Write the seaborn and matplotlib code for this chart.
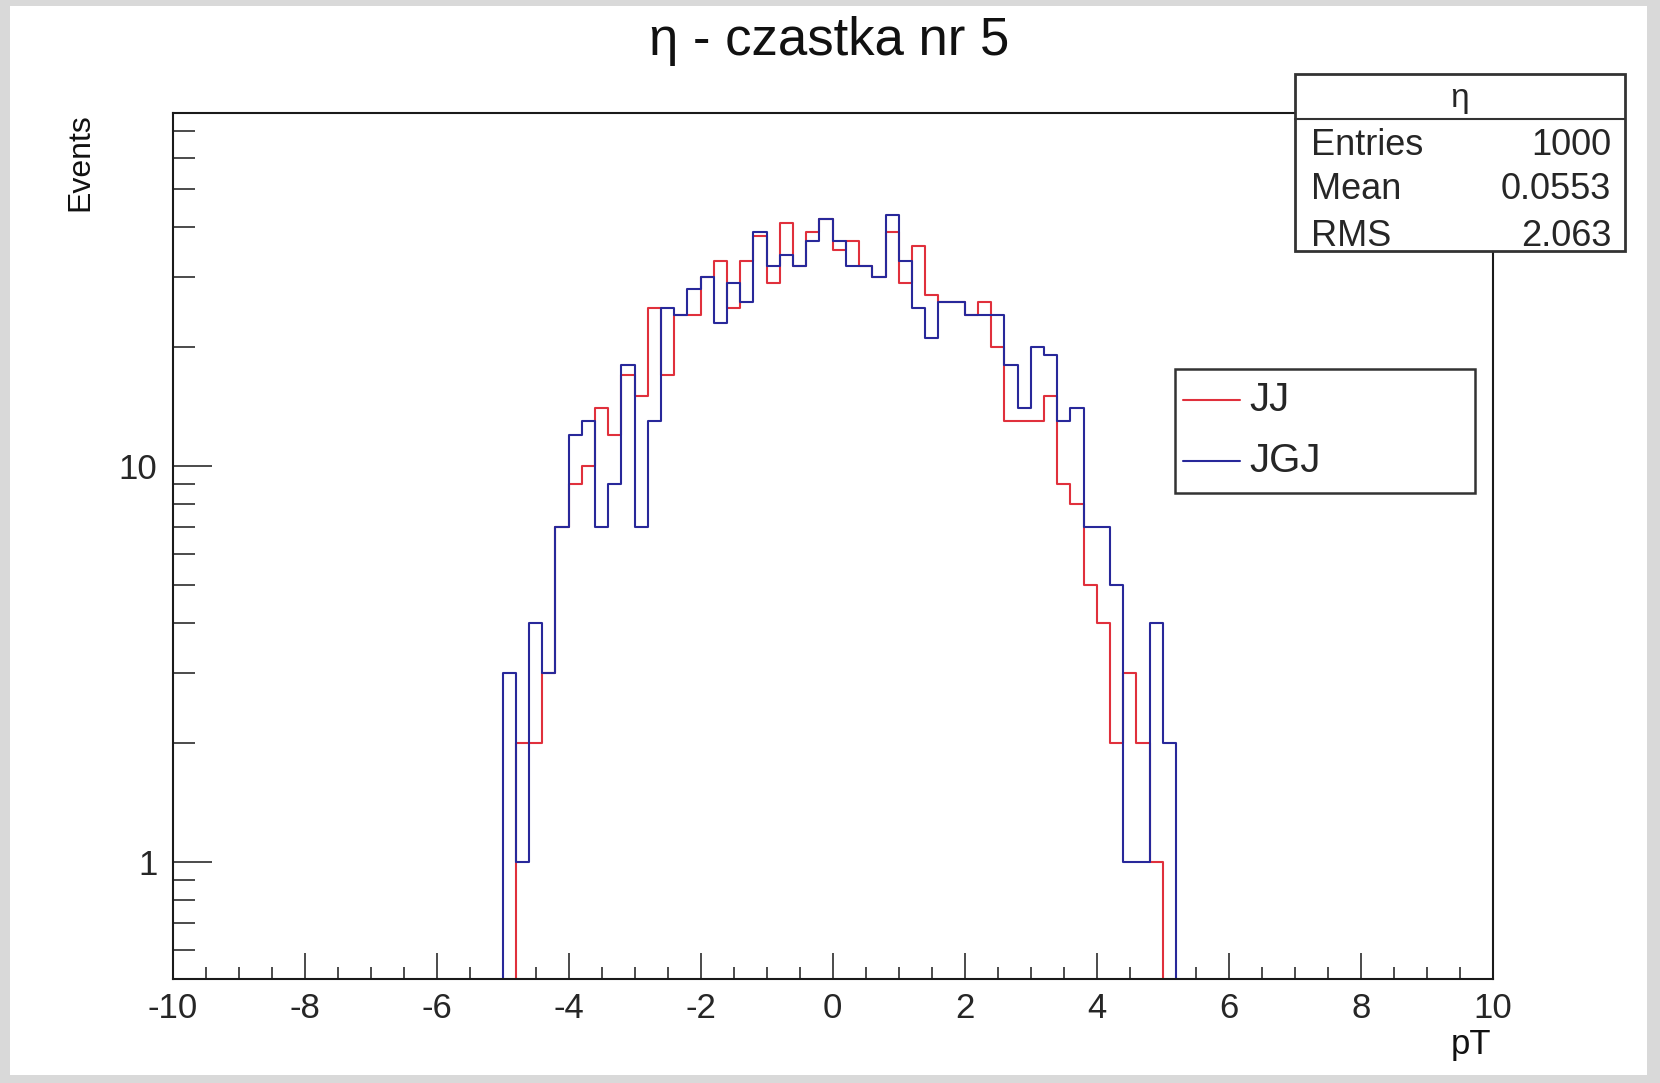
"""
Eta distribution of particle 5 for the JJ and JGJ samples,
drawn in the style of a ROOT canvas.
"""

import matplotlib

matplotlib.use("Agg")

import matplotlib.pyplot as plt
import numpy as np
import pandas as pd
import seaborn as sns
from matplotlib.lines import Line2D
from matplotlib.patches import Rectangle
from matplotlib.ticker import FuncFormatter, LogLocator, MultipleLocator


# Histogram binning (100 bins of 0.2 between -10 and 10)
BIN_WIDTH = 0.2
X_RANGE = (-10, 10)

# JJ sample: counts of consecutive bins, first bin starts at -4.8
JJ_START = -4.8
JJ_COUNTS = [
    2, 2, 3, 7, 9, 10, 14, 12, 17, 15,
    25, 17, 24, 24, 30, 33, 25, 33, 38, 29,
    41, 32, 39, 42, 35, 37, 32, 30, 39, 29,
    36, 27, 26, 26, 24, 26, 20, 13, 13, 13,
    15, 9, 8, 5, 4, 2, 3, 2, 1,
]

# JGJ sample: counts of consecutive bins, first bin starts at -5.0
JGJ_START = -5.0
JGJ_COUNTS = [
    3, 1, 4, 3, 7, 12, 13, 7, 9, 18,
    7, 13, 25, 24, 28, 30, 23, 29, 26, 39,
    32, 34, 32, 37, 42, 37, 32, 32, 30, 43,
    33, 25, 21, 26, 26, 24, 24, 24, 18, 14,
    20, 19, 13, 14, 7, 7, 5, 1, 1, 4,
    2,
]

SERIES_NAMES = ["JJ", "JGJ"]
SERIES_COLORS = ["#e0303c", "#28289a"]

TITLE = "η - czastka nr 5"
X_LABEL = "pT"
Y_LABEL = "Events"

STATS_NAME = "η"
STATS_LABELS = ["Entries", "Mean", "RMS"]
STATS_VALUES = ["1000", "0.0553", "2.063"]

Y_LIMITS = (0.505, 77.7)

FIG_W, FIG_H = 1660, 1083


def fx(px: float) -> float:
    """Pixel x to figure fraction."""
    return px / FIG_W


def fy(py: float) -> float:
    """Pixel y (from top) to figure fraction."""
    return 1 - py / FIG_H


def full_range_counts(start: float, counts: list) -> np.ndarray:
    """
    Place a run of bin counts into the full 100-bin range.
    """
    n_bins = int(round((X_RANGE[1] - X_RANGE[0]) / BIN_WIDTH))
    values = np.zeros(n_bins)
    first = int(round((start - X_RANGE[0]) / BIN_WIDTH))
    values[first:first + len(counts)] = counts
    return values


def draw_histograms(ax) -> None:
    """
    Draw both samples as step outlines.
    """
    n_bins = int(round((X_RANGE[1] - X_RANGE[0]) / BIN_WIDTH))
    centers = X_RANGE[0] + BIN_WIDTH * (np.arange(n_bins) + 0.5)

    for start, counts, color in zip(
        [JJ_START, JGJ_START],
        [JJ_COUNTS, JGJ_COUNTS],
        SERIES_COLORS
    ):
        hist_data = pd.DataFrame({
            "center": centers,
            "count": full_range_counts(start, counts)
        })
        sns.histplot(
            data=hist_data,
            x="center",
            weights="count",
            bins=n_bins,
            binrange=X_RANGE,
            element="step",
            fill=False,
            color=color,
            linewidth=1.5,
            ax=ax
        )


def style_axes(ax) -> None:
    """
    ROOT-like frame, log y axis and inward ticks.
    """
    ax.set_yscale("log")
    ax.set_xlim(*X_RANGE)
    ax.set_ylim(*Y_LIMITS)
    ax.set_xlabel("")
    ax.set_ylabel("")

    for spine in ax.spines.values():
        spine.set_visible(True)
        spine.set_color("#1a1a1a")
        spine.set_linewidth(1.5)

    ax.xaxis.set_major_locator(MultipleLocator(2))
    ax.xaxis.set_minor_locator(MultipleLocator(0.5))
    ax.yaxis.set_major_locator(LogLocator(base=10, subs=[1.0]))
    ax.yaxis.set_minor_locator(
        LogLocator(base=10, subs=np.arange(2, 10))
    )
    ax.yaxis.set_major_formatter(FuncFormatter(lambda v, _: f"{v:g}"))
    ax.yaxis.set_minor_formatter(FuncFormatter(lambda v, _: ""))

    ax.tick_params(
        axis="x", which="major", direction="in", length=19,
        width=1.1, labelsize=25, pad=9, color="#1a1a1a",
        top=False, bottom=True
    )
    ax.tick_params(
        axis="x", which="minor", direction="in", length=9,
        width=1.1, color="#1a1a1a", top=False, bottom=True
    )
    ax.tick_params(
        axis="y", which="major", direction="in", length=28,
        width=1.1, labelsize=25, pad=11, color="#1a1a1a",
        right=False, left=True
    )
    ax.tick_params(
        axis="y", which="minor", direction="in", length=16,
        width=1.1, color="#1a1a1a", right=False, left=True
    )


def draw_decorations(fig) -> None:
    """
    Canvas border, title, axis labels, stats box and legend.
    """
    # White canvas inside grey window border
    fig.patches.append(Rectangle(
        (fx(10), fy(1075)), fx(1637), 1069 / FIG_H,
        transform=fig.transFigure, facecolor="white",
        edgecolor="none", zorder=-10
    ))

    fig.text(fx(829), fy(55), TITLE, ha="center", va="baseline",
             fontsize=38, color="#111111")
    fig.text(fx(80), fy(113), Y_LABEL, ha="center", va="top",
             rotation=90, fontsize=23, color="#111111")
    fig.text(fx(1491), fy(1054), X_LABEL, ha="right", va="baseline",
             fontsize=25, color="#111111")

    # Stats box
    fig.patches.append(Rectangle(
        (fx(1295), fy(251)), fx(330), 177 / FIG_H,
        transform=fig.transFigure, facecolor="white",
        edgecolor="#333333", linewidth=2.0, zorder=5
    ))
    fig.lines.append(Line2D(
        [fx(1295), fx(1625)], [fy(119), fy(119)],
        transform=fig.transFigure, color="#333333",
        linewidth=1.5, zorder=6
    ))
    fig.text(fx(1460), fy(107), STATS_NAME, ha="center",
             va="baseline", fontsize=24, zorder=7)
    for label, value, baseline in zip(
        STATS_LABELS, STATS_VALUES, [155, 199, 246]
    ):
        fig.text(fx(1311), fy(baseline), label, ha="left",
                 va="baseline", fontsize=26, zorder=7)
        fig.text(fx(1611), fy(baseline), value, ha="right",
                 va="baseline", fontsize=26, zorder=7)

    # Legend box
    fig.patches.append(Rectangle(
        (fx(1175), fy(493)), fx(300), 124 / FIG_H,
        transform=fig.transFigure, facecolor="white",
        edgecolor="#333333", linewidth=1.8, zorder=5
    ))
    for i, (name, color) in enumerate(zip(SERIES_NAMES, SERIES_COLORS)):
        row_y = 400 + i * 61
        fig.lines.append(Line2D(
            [fx(1183), fx(1240)], [fy(row_y), fy(row_y)],
            transform=fig.transFigure, color=color,
            linewidth=1.5, zorder=6
        ))
        fig.text(fx(1249), fy(row_y), name, ha="left",
                 va="center", fontsize=29, zorder=7)


def main() -> None:
    """
    Build and save the figure.
    """
    sns.set_theme(style="white")
    plt.rcParams["font.family"] = ["Liberation Sans", "DejaVu Sans"]
    plt.rcParams["axes.unicode_minus"] = False

    fig = plt.figure(figsize=(FIG_W / 100, FIG_H / 100), dpi=100)
    fig.patch.set_facecolor("#d9d9d9")

    ax = fig.add_axes([fx(172.6), fy(979.3), fx(1320.2), 866.0 / FIG_H])
    ax.set_facecolor("white")

    draw_histograms(ax)
    style_axes(ax)
    draw_decorations(fig)

    fig.savefig("out.png", dpi=100, facecolor=fig.get_facecolor())


if __name__ == "__main__":
    main()
